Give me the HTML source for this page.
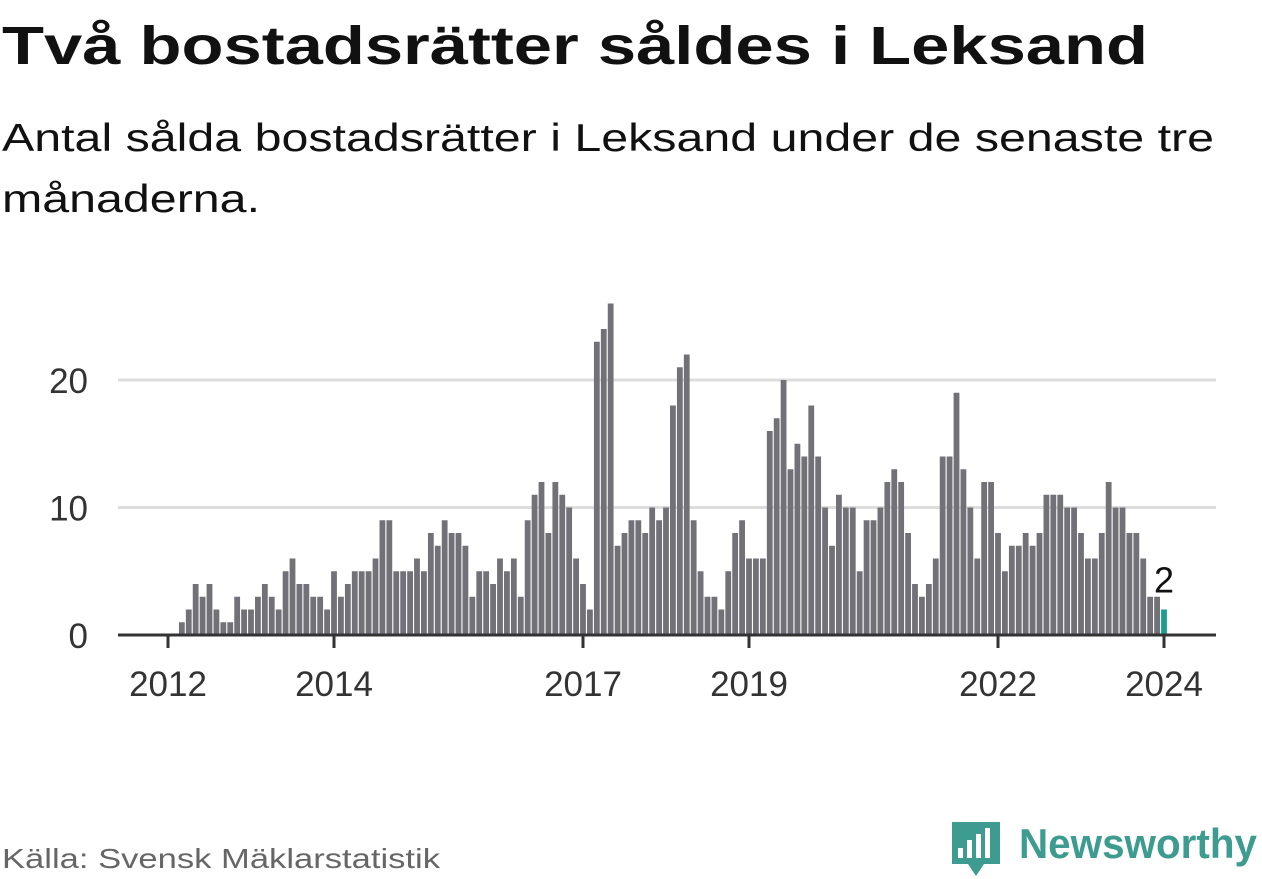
<!DOCTYPE html>
<html><head><meta charset="utf-8"><style>
html,body{margin:0;padding:0;background:#fff;}
svg{display:block;font-family:"Liberation Sans",sans-serif;}
</style></head><body>
<svg id="chart" width="1262" height="879" viewBox="0 0 1262 879">
<text x="2" y="64" font-size="54" font-weight="bold" fill="#111" textLength="1146" lengthAdjust="spacingAndGlyphs">Två bostadsrätter såldes i Leksand</text>
<text x="2" y="151" font-size="39" fill="#111" textLength="1212" lengthAdjust="spacingAndGlyphs">Antal sålda bostadsrätter i Leksand under de senaste tre</text>
<text x="2" y="212" font-size="39" fill="#111" textLength="258" lengthAdjust="spacingAndGlyphs">månaderna.</text>
<g id="grid"></g>
<g id="yticks"></g>
<g id="bars"></g>
<g id="xaxis"></g>
<text x="2" y="868" font-size="28" fill="#666" textLength="438" lengthAdjust="spacingAndGlyphs">Källa: Svensk Mäklarstatistik</text>
<g>
<path d="M952 822 h48 v42 h-16 l-8 12 l-8 -12 h-16 z" fill="#3d9c8f"/>
<rect x="958" y="848" width="5" height="10" fill="#fff"/>
<rect x="967" y="840" width="5" height="18" fill="#fff"/>
<rect x="976" y="834" width="5" height="24" fill="#fff"/>
<rect x="985" y="828" width="5" height="30" fill="#fff"/>
<text x="1019" y="858" font-size="42" font-weight="bold" fill="#3d9c8f" textLength="238" lengthAdjust="spacingAndGlyphs">Newsworthy</text>
</g>
</svg>
<script>
const values = [0,0,1,2,4,3,4,2,1,1,3,2,2,3,4,3,2,5,6,4,4,3,3,2,5,3,4,5,5,5,6,9,9,5,5,5,6,5,8,7,9,8,8,
7,3,5,5,4,6,5,6,3,9,11,12,8,12,11,10,6,4,2,23,24,26,7,8,9,9,8,10,9,10,18,21,22,9,5,3,3,2,5,8,9,6,6,6,
16,17,20,13,15,14,18,14,10,7,11,10,10,5,9,9,10,12,13,12,8,4,3,4,6,14,14,19,13,10,6,
12,12,8,5,7,7,8,7,8,11,11,11,10,10,8,6,6,8,12,10,10,8,8,6,3,3,2];
const startYear = 2012;
const yTicks = [0,10,20];
const xTickYears = [2012,2014,2017,2019,2022,2024];
const NS="http://www.w3.org/2000/svg";
const x0=168, monthW=83/12, y0=635, unit=12.75;
const xScale = i => x0 + i*monthW;
const yScale = v => y0 - v*unit;
function mk(tag, attrs, parent){const e=document.createElementNS(NS,tag);for(const k in attrs)e.setAttribute(k,attrs[k]);parent.appendChild(e);return e;}
const grid=document.getElementById('grid'), yt=document.getElementById('yticks'), bars=document.getElementById('bars'), xa=document.getElementById('xaxis');
yTicks.forEach(v=>{
  if(v>0){const l=mk('line',{x1:118,x2:1216,y1:yScale(v),y2:yScale(v),stroke:'#dddddd','stroke-width':3},grid);
  
  }
  const t=mk('text',{x:88,y:yScale(v)+13,'font-size':35,fill:'#333','text-anchor':'end'},yt);
  t.textContent=v;
  
  
});
const last=values.length-1;
values.forEach((v,i)=>{
  if(v<=0)return;
  const r=mk('rect',{x:xScale(i)-2.9,y:yScale(v),width:5.8,height:v*unit,fill:i===last?'#1a9e8f':'#727178'},bars);
  
  
});
const lbl=mk('text',{x:xScale(last),y:yScale(values[last])-17,'font-size':36,fill:'#111','text-anchor':'middle'},bars);
lbl.textContent=values[last];


const ax=mk('line',{x1:118,x2:1216,y1:y0,y2:y0,stroke:'#333','stroke-width':3},xa);


xTickYears.forEach(yr=>{
  const x=xScale((yr-startYear)*12);
  const tk=mk('line',{x1:x,x2:x,y1:y0,y2:y0+13,stroke:'#333','stroke-width':3},xa);
  
  
  const t=mk('text',{x:x,y:696,'font-size':35,fill:'#333','text-anchor':'middle'},xa);
  t.textContent=yr;
  
  
});
</script>
</body></html>
